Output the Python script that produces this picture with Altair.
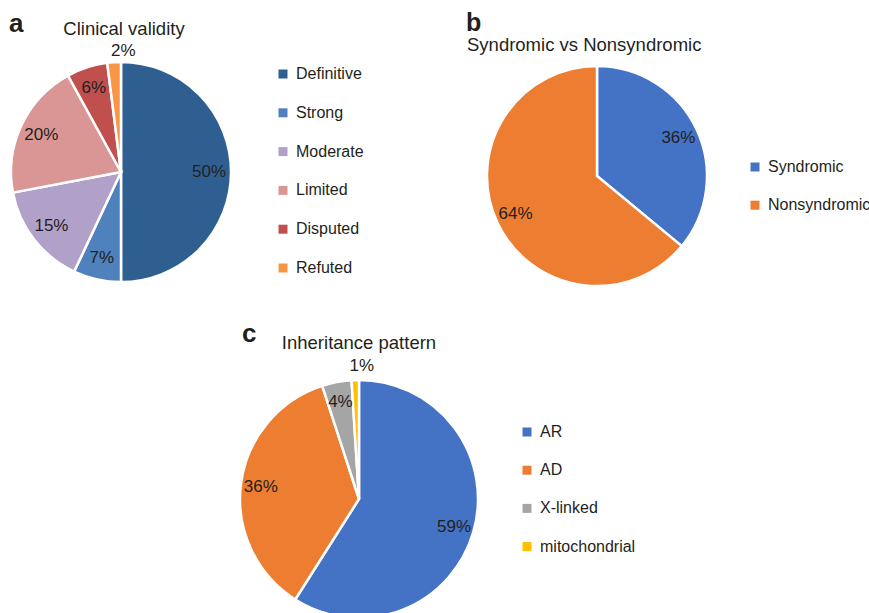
import altair as alt
import pandas as pd

FONT = "Liberation Sans"
TXT = "#231f20"

# ---- data ----
a_cats = ["Definitive", "Strong", "Moderate", "Limited", "Disputed", "Refuted"]
a_vals = [50, 7, 15, 20, 6, 2]
a_colors = ["#2F5F91", "#4F81BD", "#B1A0C7", "#D99694", "#C0504D", "#F79646"]

b_cats = ["Syndromic", "Nonsyndromic"]
b_vals = [36, 64]
b_colors = ["#4472C4", "#ED7D31"]

c_cats = ["AR", "AD", "X-linked", "mitochondrial"]
c_vals = [59, 36, 4, 1]
c_colors = ["#4472C4", "#ED7D31", "#A5A5A5", "#FFC000"]

panel_letters = ["a", "b", "c"]
panel_titles = ["Clinical validity", "Syndromic vs Nonsyndromic", "Inheritance pattern"]


def pie(cats, vals, colors, cx, cy, r, lab_r, out_r, out_dx, lx, ly, row_pad):
    df = pd.DataFrame({"cat": cats, "val": vals, "idx": list(range(len(cats)))})
    df["lab_in"] = [f"{v}%" if v >= 3 else "" for v in vals]
    df["lab_out"] = [f"{v}%" if v < 3 else "" for v in vals]
    base = alt.Chart(df).encode(
        theta=alt.Theta("val:Q", stack=True),
        order=alt.Order("idx:Q"),
        x=alt.value(cx),
        y=alt.value(cy),
    )
    arc = base.mark_arc(outerRadius=r, stroke="white", strokeWidth=2.5).encode(
        color=alt.Color(
            "cat:N",
            scale=alt.Scale(domain=cats, range=colors),
            legend=alt.Legend(
                title=None, orient="none", legendX=lx, legendY=ly,
                symbolType="square", symbolSize=81, symbolStrokeWidth=0,
                labelFontSize=16, labelFont=FONT, labelColor=TXT,
                rowPadding=row_pad, labelOffset=5, padding=0,
            ),
        )
    )
    inner = base.mark_text(radius=lab_r, fontSize=17, font=FONT, color=TXT).encode(
        text="lab_in:N", detail="cat:N"
    )
    outer = base.mark_text(radius=out_r, dx=out_dx, fontSize=17, font=FONT, color=TXT).encode(
        text="lab_out:N", detail="cat:N"
    )
    return alt.layer(arc, inner, outer)


def label(text, x, y, size, bold=False, align="left"):
    return alt.Chart(alt.Data(values=[{}])).mark_text(
        text=text, fontSize=size, font=FONT, color=TXT,
        fontWeight="bold" if bold else "normal", align=align, baseline="alphabetic",
    ).encode(x=alt.value(x), y=alt.value(y))


pa = pie(a_cats, a_vals, a_colors, 121, 172, 110, 88, 121, 10, 275, 66, 22.8)
pb = pie(b_cats, b_vals, b_colors, 597, 176, 110, 90, 121, 0, 747, 159, 22.2)
pc = pie(c_cats, c_vals, c_colors, 359, 499, 119, 99, 133, 7, 519, 424, 22.2)

texts = [
    label(panel_letters[0], 9, 32, 26, bold=True),
    label(panel_letters[1], 466, 31, 25, bold=True),
    label(panel_letters[2], 242, 342, 26, bold=True),
    label(panel_titles[0], 124, 35, 18.5, align="center"),
    label(panel_titles[1], 467, 51, 18.5),
    label(panel_titles[2], 359, 349, 18.5, align="center"),
]

chart = alt.layer(pa, pb, pc, *texts).resolve_scale(color="independent").properties(
    width=869, height=613, padding=0, autosize="none", background="white"
).configure_view(stroke=None)

chart.save("out.html", embed_options={"renderer": "svg", "actions": False})
